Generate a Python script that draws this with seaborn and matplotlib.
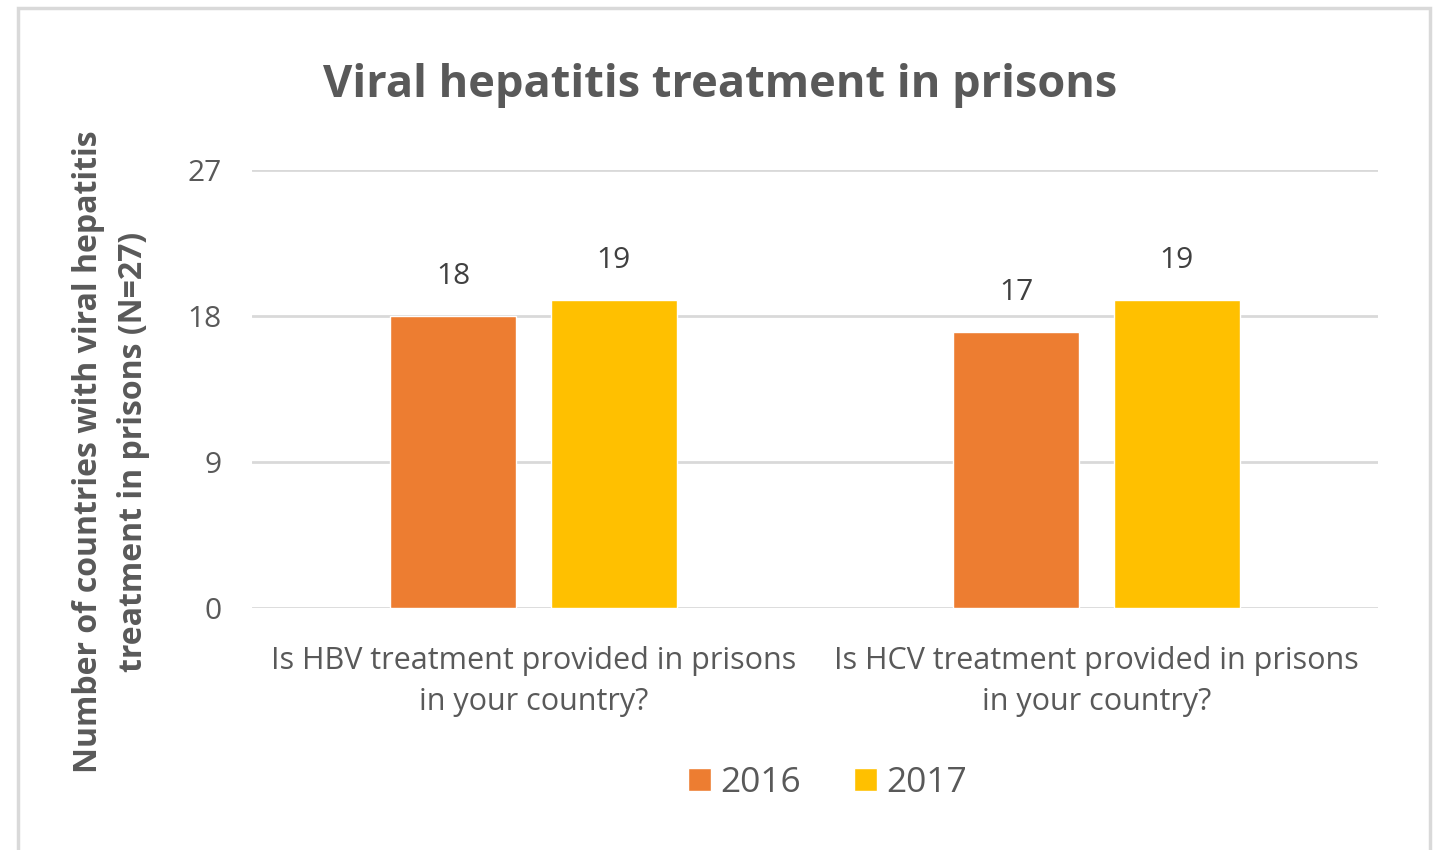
import matplotlib
matplotlib.use("Agg")
import matplotlib.pyplot as plt
import seaborn as sns
import pandas as pd
from matplotlib.patches import Rectangle

categories = ["Is HBV treatment provided in prisons\nin your country?",
              "Is HCV treatment provided in prisons\nin your country?"]
years = ["2016", "2017"]
values_2016 = [18, 17]
values_2017 = [19, 19]
yticks = [0, 9, 18, 27]

df = pd.DataFrame({
    "category": categories * 2,
    "year": [years[0]] * 2 + [years[1]] * 2,
    "value": values_2016 + values_2017,
})

sns.set_theme(style="white")
plt.rcParams['font.family'] = ['Open Sans', 'DejaVu Sans']

gray = "#595959"
fig = plt.figure(figsize=(14.38, 8.5), dpi=100)
ax = fig.add_axes([252/1438, 1 - 608/850, (1378-252)/1438, (608-170)/850])

sns.barplot(data=df, x="category", y="value", hue="year",
            palette={"2016": "#ED7D31", "2017": "#FFC000"},
            width=0.57, gap=0.214, ax=ax, saturation=1, errorbar=None)

ax.set_ylim(0, 27)
ax.set_yticks(yticks)
ax.set_yticklabels([str(t) for t in yticks], fontsize=21.5, color=gray)
ax.set_xlim(-0.5, 1.5)
ax.tick_params(axis="y", length=0, pad=22)
ax.tick_params(axis="x", length=0, pad=27)
for lbl in ax.get_xticklabels():
    lbl.set_fontsize(22)
    lbl.set_color(gray)
    lbl.set_linespacing(1.5)
ax.grid(axis="y", color="#D9D9D9", lw=2)
ax.set_axisbelow(True)
for s in ax.spines.values():
    s.set_visible(False)
ax.set_xlabel("")
ax.set_ylabel("Number of countries with viral hepatitis\ntreatment in prisons (N=27)",
              fontsize=23, fontweight="bold", color=gray, linespacing=1.45,
              va="center", ha="center")
ax.yaxis.set_label_coords((111 - 252) / 1126, (608 - 452) / 438)

for cont in ax.containers:
    ax.bar_label(cont, fontsize=21.5, color="#404040", padding=18)

ax.legend(loc="center", bbox_to_anchor=(0.511, (608 - 783) / 438), ncol=2, frameon=False,
          fontsize=25.5, labelcolor=gray, handlelength=0.65, handleheight=0.65,
          handletextpad=0.25, columnspacing=1.5)

fig.text(720/1438, 1 - 86/850, "Viral hepatitis treatment in prisons", ha="center", va="center",
         fontsize=32.5, fontweight="bold", color=gray)

fig.patches.append(Rectangle((18/1438, -0.05), (1430-18)/1438, 1 - 8/850 + 0.05,
                             transform=fig.transFigure, fill=False,
                             edgecolor="#D9D9D9", lw=2.5))

fig.savefig("out.png", dpi=100)
